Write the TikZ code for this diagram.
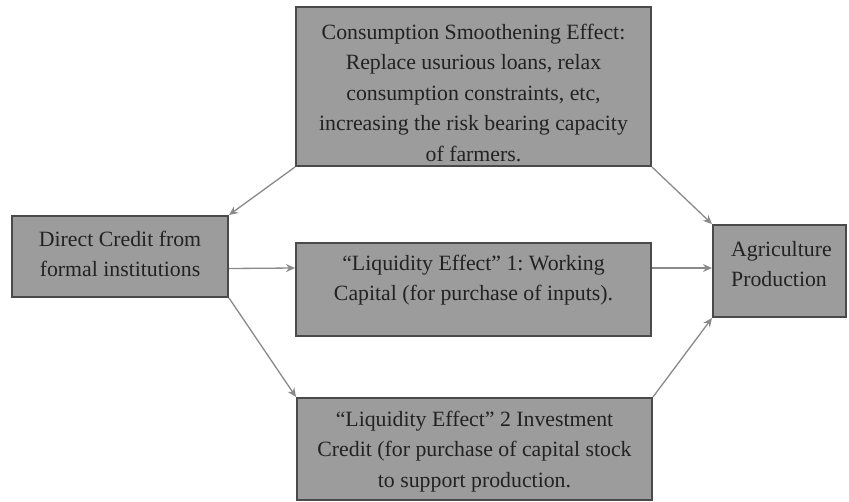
\documentclass[tikz,border=0pt]{standalone}
\usepackage{fontspec}
\setmainfont{Liberation Serif}
\usetikzlibrary{arrows.meta}
\definecolor{boxfill}{HTML}{9C9C9C}
\definecolor{boxline}{HTML}{4A4A4A}
\definecolor{txt}{HTML}{222222}
\definecolor{arr}{HTML}{8A8A8A}
\tikzset{
  box/.style={draw=boxline, line width=2pt, fill=boxfill, rectangle, inner sep=0pt},
  lbl/.style={text=txt, align=center, font=\frenchspacing\fontsize{21.8}{30.5}\selectfont, inner sep=0pt},
  conn/.style={draw=arr, line width=1.3pt, -{Stealth[length=9pt,width=8pt]}}
}
\begin{document}
\begin{tikzpicture}[x=1pt,y=-1pt]
\useasboundingbox[fill=white] (0,0) rectangle (849,501);
% boxes
\node[box, minimum width=355pt, minimum height=159pt] (top) at (473.5,86.5) {};
\node[box, minimum width=216pt, minimum height=81pt] (left) at (120,256.5) {};
\node[box, minimum width=355pt, minimum height=93pt] (mid) at (473.5,289.5) {};
\node[box, minimum width=133pt, minimum height=92pt] (right) at (779.5,271) {};
\node[box, minimum width=355pt, minimum height=102pt] (bot) at (474.5,449) {};
% texts
\node[lbl] (topT) at (473.5,92.5) {Consumption Smoothening Effect:\\Replace usurious loans, relax\\consumption constraints, etc,\\increasing the risk bearing capacity\\of farmers.};
\node[lbl] (leftT) at (120,254) {Direct Credit from\\formal institutions};
\node[lbl] (midT) at (473.5,280) {``Liquidity Effect'' 1: Working\\Capital (for purchase of inputs).};
\node[lbl, align=left, anchor=west] (rightT) at (731,264) {Agriculture\\Production};
\node[lbl] (botT) at (474.5,451.5) {``Liquidity Effect'' 2 Investment\\Credit (for purchase of capital stock\\to support production.};
% connectors
\draw[conn] (top.south west) -- (left.north east);
\draw[conn] (top.south east) -- (right.north west);
\draw[conn] ([yshift=-12pt]left.east) -- ([yshift=21.5pt]mid.west);
\draw[conn] ([yshift=21.5pt]mid.east) -- ([yshift=3pt]right.west);
\draw[conn] (left.south east) -- (bot.north west);
\draw[conn] (bot.north east) -- (right.south west);
\end{tikzpicture}
\end{document}
